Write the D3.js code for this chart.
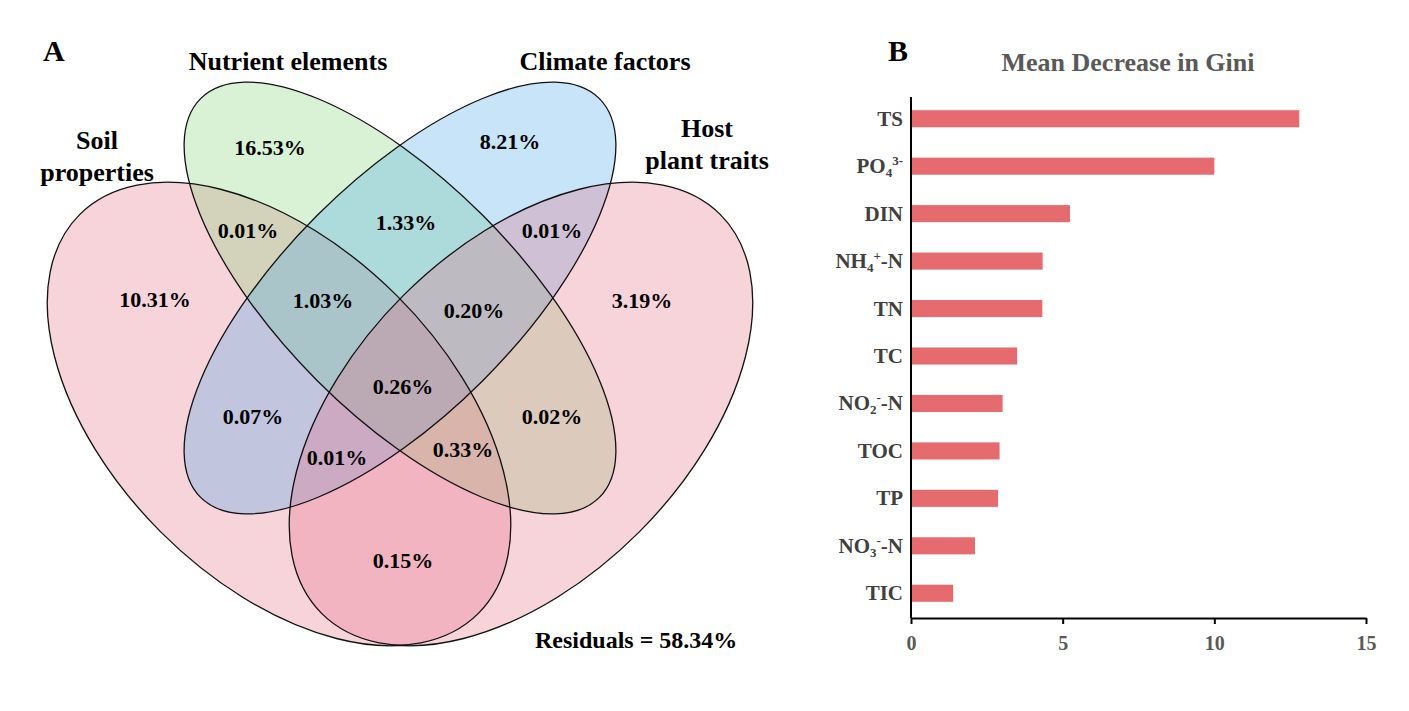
<!DOCTYPE html>
<html>
<head>
<meta charset="utf-8">
<script src="https://cdn.jsdelivr.net/npm/d3@7"></script>
<style>
  body { margin: 0; background: #fff; }
  text { font-family: "Liberation Serif", "Times New Roman", serif; font-weight: bold; }
</style>
</head>
<body>
<svg id="chart" width="1409" height="711"></svg>
<script>
// Panel A: variation partitioning (%)
const setNames = ["Soil properties", "Nutrient elements", "Climate factors", "Host plant traits"];
const regionKeys = ["N", "C", "S", "H", "SN", "NC", "CH", "SNC", "NCH", "SNCH", "SC", "NH", "SCH", "SNH", "SH"];
const regionValues = [16.53, 8.21, 10.31, 3.19, 0.01, 1.33, 0.01, 1.03, 0.20, 0.26, 0.07, 0.02, 0.01, 0.33, 0.15];
const residual = 58.34;

// Panel B: random forest importance
const variables = ["TS", "PO_{4}^{3-}", "DIN", "NH_{4}^{+}-N", "TN", "TC", "NO_{2}^{-}-N", "TOC", "TP", "NO_{3}^{-}-N", "TIC"];
const giniValues = [12.8, 10.0, 5.24, 4.34, 4.33, 3.5, 3.02, 2.92, 2.87, 2.11, 1.39];
const xTicks = [0, 5, 10, 15];

const svg = d3.select('#chart');

// ---------- Venn ----------
const venn = svg.append('g');

// ellipse geometry, drawn in order soil, nutrient, climate, host
const ellipseLayout = [
  { cx: 279, cy: 414, rx: 282, ry: 167, rot: 45, fill: '#e46c84' },
  { cx: 400, cy: 298, rx: 282, ry: 117, rot: 45, fill: '#80d476' },
  { cx: 400, cy: 298, rx: 282, ry: 117, rot: -45, fill: '#48a5e8' },
  { cx: 521, cy: 414, rx: 282, ry: 167, rot: -45, fill: '#e46c84' }
];

venn.selectAll('ellipse.fill')
  .data(ellipseLayout)
  .join('ellipse')
  .attr('class', 'fill')
  .attr('transform', d => `translate(${d.cx},${d.cy}) rotate(${d.rot})`)
  .attr('rx', d => d.rx)
  .attr('ry', d => d.ry)
  .attr('fill', d => d.fill)
  .attr('fill-opacity', 0.3)
  .attr('stroke', 'none');

venn.selectAll('ellipse.edge')
  .data(ellipseLayout)
  .join('ellipse')
  .attr('class', 'edge')
  .attr('transform', d => `translate(${d.cx},${d.cy}) rotate(${d.rot})`)
  .attr('rx', d => d.rx)
  .attr('ry', d => d.ry)
  .attr('fill', 'none')
  .attr('stroke', '#111')
  .attr('stroke-width', 1.3);

// where each region's label sits
const regionPos = {
  N: [270, 147], C: [510, 141], S: [155, 299], H: [642, 300],
  SN: [248, 230], NC: [406, 222], CH: [552, 230],
  SNC: [323, 300], NCH: [474, 310], SNCH: [403, 386],
  SC: [253, 416], NH: [552, 416], SCH: [337, 457], SNH: [463, 449], SH: [403, 560]
};

venn.selectAll('text.pct')
  .data(regionKeys)
  .join('text')
  .attr('class', 'pct')
  .attr('x', d => regionPos[d][0])
  .attr('y', d => regionPos[d][1])
  .attr('text-anchor', 'middle')
  .attr('dominant-baseline', 'central')
  .attr('font-size', 22)
  .attr('fill', '#000')
  .text((d, i) => regionValues[i].toFixed(2) + '%');

// set names
const nameLayout = [
  { lines: ['Soil', 'properties'], x: 97, y: 149 },
  { lines: ['Nutrient elements'], x: 288, y: 70 },
  { lines: ['Climate factors'], x: 605, y: 70 },
  { lines: ['Host', 'plant traits'], x: 707, y: 137 }
];
nameLayout.forEach((n, i) => {
  const t = venn.append('text')
    .attr('x', n.x)
    .attr('y', n.y)
    .attr('text-anchor', 'middle')
    .attr('font-size', 26)
    .attr('fill', '#000');
  n.lines.forEach((l, j) => {
    t.append('tspan').attr('x', n.x).attr('dy', j ? 32 : 0).text(l);
  });
});

venn.append('text')
  .attr('x', 535).attr('y', 648)
  .attr('font-size', 24)
  .text(`Residuals = ${residual.toFixed(2)}%`);

svg.append('text').attr('x', 43).attr('y', 61).attr('font-size', 30).text('A');
svg.append('text').attr('x', 888).attr('y', 61).attr('font-size', 30).text('B');

// ---------- Bars ----------
const x = d3.scaleLinear().domain([0, 15]).range([911, 1366]);
const y = d3.scaleBand().domain(variables).range([95, 617]).paddingInner(0.64).paddingOuter(0.32);

const bars = svg.append('g');

bars.append('text')
  .attr('x', 1128).attr('y', 71)
  .attr('text-anchor', 'middle')
  .attr('font-size', 26)
  .attr('fill', '#595959')
  .text('Mean Decrease in Gini');

bars.selectAll('rect')
  .data(variables)
  .join('rect')
  .attr('x', x(0))
  .attr('y', d => y(d))
  .attr('width', (d, i) => x(giniValues[i]) - x(0))
  .attr('height', y.bandwidth())
  .attr('fill', '#e56b6f');

// labels with sub/superscripts
function richLabel(sel, label) {
  const parts = label.split(/(_\{[^}]*\}|\^\{[^}]*\})/).filter(p => p);
  let shift = 0;
  parts.forEach(p => {
    let s = 0, t = p, small = false;
    if (p[0] === '_') { s = 4; t = p.slice(2, -1); small = true; }
    else if (p[0] === '^') { s = -8; t = p.slice(2, -1); small = true; }
    sel.append('tspan')
      .attr('dy', s - shift)
      .attr('font-size', small ? 13 : null)
      .text(t);
    shift = s;
  });
}

bars.selectAll('text.cat')
  .data(variables)
  .join('text')
  .attr('class', 'cat')
  .attr('x', 903)
  .attr('y', d => y(d) + y.bandwidth() / 2 + 7)
  .attr('text-anchor', 'end')
  .attr('font-size', 21)
  .attr('fill', '#404040')
  .each(function (d) { richLabel(d3.select(this), d); });

// axes
bars.append('line')
  .attr('x1', x(0)).attr('x2', x(0))
  .attr('y1', 97).attr('y2', 618)
  .attr('stroke', '#000').attr('stroke-width', 2);

const xAxis = bars.append('g')
  .attr('transform', 'translate(0,618)')
  .call(d3.axisBottom(x).tickValues(xTicks).tickSize(6).tickSizeOuter(0));
xAxis.select('.domain').attr('stroke', '#000').attr('stroke-width', 2);
xAxis.selectAll('.tick line').attr('stroke', '#000').attr('stroke-width', 2);
xAxis.selectAll('.tick text')
  .attr('y', 18)
  .attr('font-size', 20)
  .attr('font-family', '"Liberation Serif", serif')
  .attr('fill', '#595959');
</script>
</body>
</html>
